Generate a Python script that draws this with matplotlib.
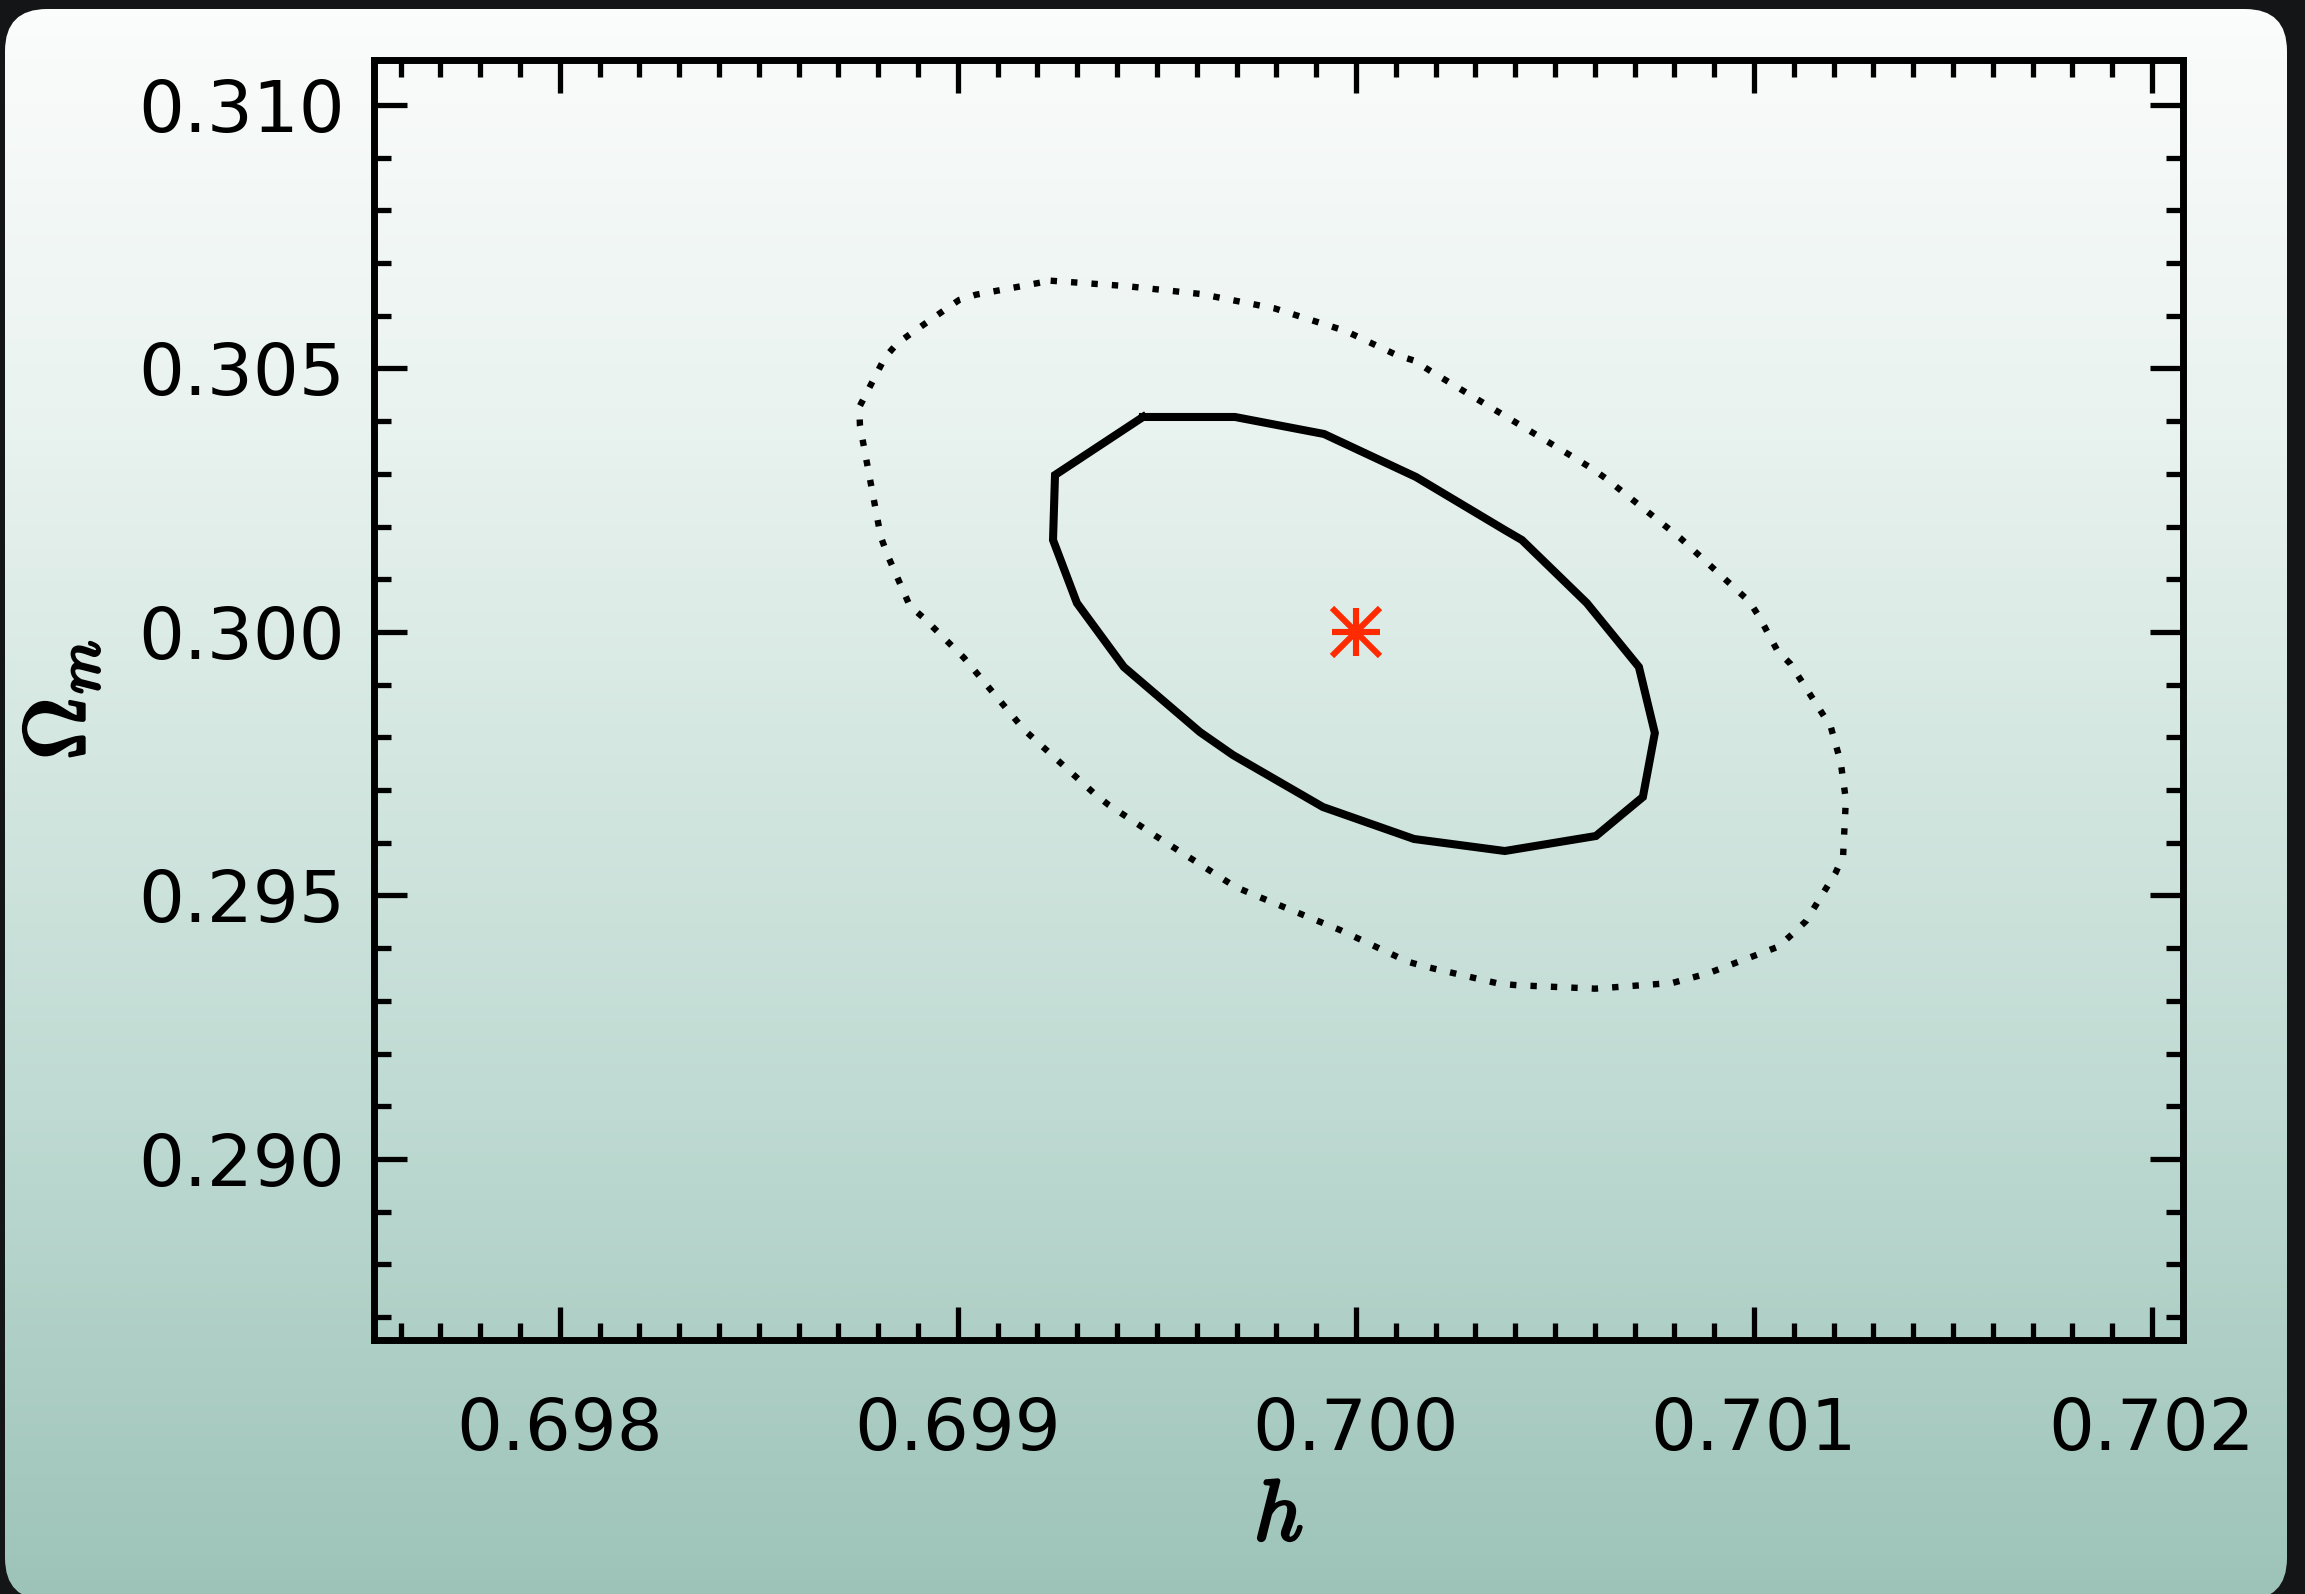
import numpy as np
import matplotlib
matplotlib.use("Agg")
import matplotlib.pyplot as plt
import matplotlib.patheffects as pe
from matplotlib.patches import FancyBboxPatch
from matplotlib.colors import LinearSegmentedColormap

plt.rcParams["mathtext.fontset"] = "cm"

# Inner (1-sigma) confidence contour in the (h, Omega_m) plane
inner_h = [0.699465, 0.699696, 0.699920, 0.700151, 0.700374, 0.700417, 0.700580,
           0.700711, 0.700751, 0.700721, 0.700603, 0.700374, 0.700146, 0.699917,
           0.699691, 0.699608, 0.699417, 0.699299, 0.699239, 0.699244]
inner_om = [0.304080, 0.304080, 0.303757, 0.302941, 0.301935, 0.301746, 0.300550,
            0.299336, 0.298083, 0.296869, 0.296129, 0.295844, 0.296072, 0.296679,
            0.297666, 0.298102, 0.299336, 0.300550, 0.301746, 0.302979]

# Outer (2-sigma) confidence contour
outer_h = [0.699233, 0.699421, 0.699610, 0.699795, 0.699974, 0.700102, 0.700147,
           0.700186, 0.700551, 0.700592, 0.700630, 0.700814, 0.700989, 0.701014,
           0.701059, 0.701092, 0.701193, 0.701218, 0.701231, 0.701224, 0.701205,
           0.701131, 0.701096, 0.701061, 0.700885, 0.700795, 0.700601, 0.700407,
           0.700360, 0.700175, 0.700130, 0.699960, 0.699739, 0.699696, 0.699657,
           0.699497, 0.699379, 0.699342, 0.699167, 0.699015, 0.698915, 0.698879,
           0.698822, 0.698806, 0.698754, 0.698752, 0.698817, 0.698848, 0.698885,
           0.698964, 0.699003, 0.699045]
outer_om = [0.306666, 0.306565, 0.306414, 0.306142, 0.305712, 0.305256, 0.305148,
            0.304958, 0.303296, 0.303106, 0.302903, 0.301789, 0.300575, 0.300279,
            0.299645, 0.299393, 0.298203, 0.297528, 0.296818, 0.295750, 0.295427,
            0.294516, 0.294264, 0.294028, 0.293524, 0.293340, 0.293232, 0.293296,
            0.293326, 0.293649, 0.293744, 0.294345, 0.295028, 0.295167, 0.295357,
            0.296129, 0.296717, 0.296939, 0.298140, 0.299512, 0.300260, 0.300499,
            0.301480, 0.301816, 0.303915, 0.304264, 0.305213, 0.305478, 0.305679,
            0.306097, 0.306300, 0.306400]

# Fiducial model
fiducial_h = [0.700]
fiducial_om = [0.300]

x_ticks = [0.698, 0.699, 0.700, 0.701, 0.702]
x_tick_labels = ["0.698", "0.699", "0.700", "0.701", "0.702"]
y_ticks = [0.290, 0.295, 0.300, 0.305, 0.310]
y_tick_labels = ["0.290", "0.295", "0.300", "0.305", "0.310"]

W, H = 2305, 1594
fig = plt.figure(figsize=(W / 100, H / 100), dpi=100)
fig.patch.set_facecolor("#141516")

# Rounded slide panel with a vertical white-to-teal gradient
bg = fig.add_axes([0, 0, 1, 1])
bg.set_xlim(0, W)
bg.set_ylim(H, 0)
bg.axis("off")
panel = FancyBboxPatch((5, 9), 2282, 1591, boxstyle="round,pad=0,rounding_size=42",
                       facecolor="none", edgecolor="none", transform=bg.transData)
bg.add_patch(panel)
grad_cmap = LinearSegmentedColormap.from_list(
    "panel",
    [(0.0, (251/255, 252/255, 252/255)),
     (0.25, (234/255, 243/255, 240/255)),
     (0.45, (214/255, 232/255, 226/255)),
     (0.70, (190/255, 218/255, 210/255)),
     (1.0, (157/255, 195/255, 184/255))])
grad = np.linspace(0, 1, 512).reshape(-1, 1)
im = bg.imshow(grad, cmap=grad_cmap, extent=(5, 2287, 1600, 9), aspect="auto",
               origin="upper", interpolation="bilinear")
im.set_clip_path(panel)

# Main plotting axes
ax = fig.add_axes([374 / W, 1 - 1340 / H, (2183 - 374) / W, (1340 - 60) / H])
ax.set_facecolor("none")
ax.set_xlim(0.697533, 0.702078)
ax.set_ylim(0.286565, 0.310854)

ax.plot(np.append(outer_h, outer_h[0]), np.append(outer_om, outer_om[0]),
        color="black", lw=4.6, linestyle=(0, (1, 2.2)), dash_capstyle="butt")
ax.plot(np.append(inner_h, inner_h[0]), np.append(inner_om, inner_om[0]),
        color="black", lw=5.8, solid_joinstyle="miter")
for m in ("+", "x"):
    ax.plot(fiducial_h, fiducial_om, linestyle="none", marker=m, markersize=35,
            markeredgewidth=4.4, color="#ff2a00")

ax.set_xticks(x_ticks)
ax.set_xticklabels(x_tick_labels)
ax.set_yticks(y_ticks)
ax.set_yticklabels(y_tick_labels)
ax.set_xticks(np.arange(0.6976, 0.70205, 0.0001), minor=True)
ax.set_yticks(np.arange(0.287, 0.3105, 0.001), minor=True)

for sp in ax.spines.values():
    sp.set_linewidth(5.0)
ax.tick_params(which="both", direction="in", top=True, right=True, width=3.8,
               color="black")
ax.tick_params(which="major", length=24)
ax.tick_params(which="minor", length=12)
ax.tick_params(axis="x", which="major", pad=40, labelsize=52)
ax.tick_params(axis="y", which="major", pad=21, labelsize=52)
for lab in ax.get_xticklabels() + ax.get_yticklabels():
    lab.set_fontfamily("DejaVu Sans")

heavy = [pe.withStroke(linewidth=2.2, foreground="black")]
xl = ax.set_xlabel(r"$h$", fontsize=62, va="center")
xl.set_path_effects(heavy)
ax.xaxis.set_label_coords(0.5, -0.138)
yl = ax.set_ylabel(r"$\Omega_m$", fontsize=62, va="center")
yl.set_path_effects(heavy)
ax.yaxis.set_label_coords(-0.173, 0.5)

fig.savefig("out.png", dpi=100, facecolor=fig.get_facecolor())
